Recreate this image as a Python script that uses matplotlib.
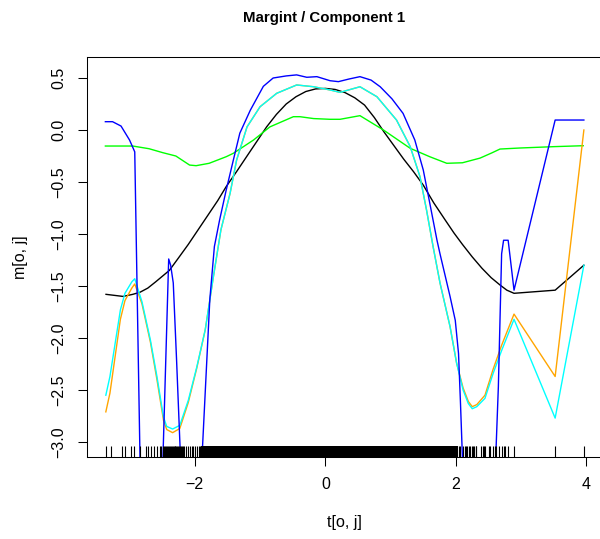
import matplotlib
matplotlib.use("Agg")
import matplotlib.pyplot as plt

plt.rcParams['font.family'] = ['Liberation Sans', 'DejaVu Sans']

# ---------------- data ----------------
black_x = [-3.36, -3.10, -2.95, -2.84, -2.72, -2.60, -2.39, -2.25, -2.10, -1.95, -1.80, -1.65,
           -1.52, -1.36, -1.20, -1.05, -0.90, -0.75, -0.60, -0.45, -0.30, -0.15, 0.00, 0.15,
           0.30, 0.45, 0.60, 0.75, 0.90, 1.05, 1.20, 1.35, 1.50, 1.66, 1.83, 1.97, 2.10, 2.25,
           2.40, 2.54, 2.675, 2.78, 2.89, 3.52, 3.96]
black_y = [-1.58, -1.60, -1.58, -1.56, -1.52, -1.46, -1.35, -1.23, -1.10, -0.96, -0.82, -0.68,
           -0.545, -0.40, -0.25, -0.11, 0.03, 0.15, 0.25, 0.32, 0.37, 0.395, 0.40, 0.39,
           0.36, 0.31, 0.24, 0.12, -0.02, -0.15, -0.28, -0.40, -0.53, -0.70, -0.86, -0.99, -1.10, -1.22,
           -1.33, -1.42, -1.49, -1.54, -1.57, -1.54, -1.30]

green_x = [-3.37, -2.95, -2.70, -2.49, -2.29, -2.08, -1.98, -1.78, -1.52, -1.41, -1.10, -0.85,
           -0.49, -0.39, -0.18, 0.07, 0.225, 0.53, 0.89, 1.30, 1.60, 1.86, 2.10, 2.37, 2.55,
           2.675, 2.98, 3.50, 3.95]
green_y = [-0.154, -0.154, -0.18, -0.218, -0.25, -0.337, -0.343, -0.32, -0.257, -0.224, -0.096, 0.03,
           0.128, 0.128, 0.11, 0.103, 0.103, 0.138, 0.0, -0.176, -0.257, -0.32, -0.315, -0.27, -0.22,
           -0.183, -0.173, -0.16, -0.151]

blue_x = [-3.37, -3.26, -3.13, -3.00, -2.92, -2.80, -2.55, -2.40, -2.37, -2.33, -2.28, -2.22,
          -2.10, -2.02, -1.77, -1.70, -1.62, -1.52, -1.41, -1.31, -1.15, -0.95, -0.80, -0.60,
          -0.44, -0.285, -0.13, 0.072, 0.20, 0.36, 0.53, 0.70, 0.84, 1.02, 1.19, 1.37, 1.50,
          1.60, 1.71, 1.756, 1.91, 1.99, 2.04, 2.07, 2.20, 2.50, 2.65, 2.70, 2.73, 2.80, 2.89,
          3.52, 3.96]
blue_y = [0.08, 0.08, 0.038, -0.096, -0.21, -4.6, -4.5, -1.24, -1.30, -1.47, -2.2, -3.14,
          -4.8, -4.8, -1.63, -1.12, -0.865, -0.58, -0.29, -0.03, 0.19, 0.42, 0.50, 0.52,
          0.53, 0.507, 0.513, 0.474, 0.465, 0.49, 0.513, 0.48, 0.416, 0.30, 0.16, -0.096, -0.385,
          -0.705, -1.06, -1.19, -1.60, -1.83, -2.15, -2.63, -4.9, -5.0, -2.47, -1.19, -1.06, -1.06, -1.54,
          0.096, 0.096]

cyan_x = [-3.363, -3.30, -3.14, -3.07, -2.965, -2.92, -2.81, -2.68, -2.58, -2.48, -2.43, -2.34,
          -2.23, -2.10, -1.97, -1.84, -1.715, -1.60, -1.46, -1.36, -1.20, -1.00, -0.745, -0.44,
          -0.18, 0.072, 0.225, 0.53, 0.79, 1.09, 1.30, 1.45, 1.55, 1.65, 1.756, 1.91, 2.01,
          2.11, 2.19, 2.25, 2.32, 2.445, 2.57, 2.70, 2.89, 3.52, 3.96]
cyan_y = [-2.55, -2.37, -1.73, -1.57, -1.46, -1.43, -1.65, -2.02, -2.37, -2.76, -2.85, -2.875,
          -2.84, -2.60, -2.28, -1.92, -1.41, -0.96, -0.61, -0.29, 0.03, 0.224, 0.353, 0.433,
          0.416, 0.385, 0.362, 0.416, 0.32, 0.096, -0.16, -0.45, -0.77, -1.12, -1.47, -1.89, -2.24,
          -2.50, -2.63, -2.68, -2.66, -2.58, -2.34, -2.12, -1.82, -2.77, -1.30]

orange_x = cyan_x
orange_y = [-2.71, -2.53, -1.82, -1.64, -1.52, -1.48, -1.67, -2.04, -2.40, -2.79, -2.88, -2.91,
            -2.87, -2.62, -2.29, -1.92, -1.41, -0.96, -0.61, -0.29, 0.03, 0.224, 0.353, 0.433,
            0.416, 0.385, 0.362, 0.416, 0.32, 0.096, -0.16, -0.45, -0.77, -1.12, -1.47, -1.89, -2.24,
            -2.48, -2.61, -2.66, -2.64, -2.55, -2.30, -2.07, -1.77, -2.37, 0.0]

# sample positions shown as rug
rug_x = [-3.363, -3.29, -3.12, -3.07, -2.975, -2.93, -2.84, -2.75, -2.71, -2.67, -2.63, -2.58, -2.54, -2.52,
         -2.48, -2.465, -2.45, -2.44, -2.425, -2.41, -2.395, -2.38, -2.37, -2.355, -2.34, -2.325,
         -2.31, -2.30, -2.285, -2.27, -2.255, -2.24, -2.23, -2.215, -2.20, -2.185,
         -2.16, -2.13, -2.11, -2.08, -2.05, -2.03, -2.00, -1.97, -1.94, -1.92,
         -1.89, -1.87, -1.85, -1.83, -1.81, -1.79, -1.77, -1.75, -1.73, -1.71,
         -1.69, -1.67, -1.65, -1.63, -1.61, -1.59, -1.57, -1.55, -1.53, -1.51,
         -1.49, -1.47, -1.45, -1.43, -1.41, -1.39, -1.37, -1.35, -1.33, -1.31,
         -1.29, -1.27, -1.25, -1.23, -1.21, -1.19, -1.17, -1.15, -1.13, -1.11,
         -1.09, -1.07, -1.05, -1.03, -1.01, -0.99, -0.97, -0.95, -0.93, -0.91,
         -0.89, -0.87, -0.85, -0.83, -0.81, -0.79, -0.77, -0.75, -0.73, -0.71,
         -0.69, -0.67, -0.65, -0.63, -0.61, -0.59, -0.57, -0.55, -0.53, -0.51,
         -0.49, -0.47, -0.45, -0.43, -0.41, -0.39, -0.37, -0.35, -0.33, -0.31,
         -0.29, -0.27, -0.25, -0.23, -0.21, -0.19, -0.17, -0.15, -0.13, -0.11,
         -0.09, -0.07, -0.05, -0.03, -0.01, 0.01, 0.03, 0.05, 0.07, 0.09,
         0.11, 0.13, 0.15, 0.17, 0.19, 0.21, 0.23, 0.25, 0.27, 0.29,
         0.31, 0.33, 0.35, 0.37, 0.39, 0.41, 0.43, 0.45, 0.47, 0.49,
         0.51, 0.53, 0.55, 0.57, 0.59, 0.61, 0.63, 0.65, 0.67, 0.69,
         0.71, 0.73, 0.75, 0.77, 0.79, 0.81, 0.83, 0.85, 0.87, 0.89,
         0.91, 0.93, 0.95, 0.97, 0.99, 1.01, 1.03, 1.05, 1.07, 1.09,
         1.11, 1.13, 1.15, 1.17, 1.19, 1.21, 1.23, 1.25, 1.27, 1.29,
         1.31, 1.33, 1.35, 1.37, 1.39, 1.41, 1.43, 1.45, 1.47, 1.49,
         1.51, 1.53, 1.55, 1.57, 1.59, 1.61, 1.63, 1.65, 1.67, 1.69,
         1.71, 1.73, 1.75, 1.77, 1.79, 1.81, 1.83, 1.85, 1.87, 1.89,
         1.91, 1.93, 1.95, 1.97, 1.99, 2.01,
         2.04, 2.07, 2.11, 2.14, 2.16, 2.17, 2.205, 2.21, 2.24, 2.26, 2.27, 2.30, 2.31,
         2.39, 2.41, 2.435, 2.44, 2.50, 2.52, 2.57, 2.60, 2.62, 2.66, 2.70, 2.73, 2.75,
         2.80, 2.89, 3.52, 3.96]

x_ticks = [-2, 0, 2, 4]
y_ticks = [-3.0, -2.5, -2.0, -1.5, -1.0, -0.5, 0.0, 0.5]

# ---------------- figure ----------------
W, H = 600, 539
fig = plt.figure(figsize=(W / 100, H / 100), dpi=100)
# plot region in pixels: left 86.7, right 603 (just past the image edge), top 57, bottom 457
ax = fig.add_axes([86.7 / W, (H - 457) / H, (603 - 86.7) / W, 400 / H])
ax.set_xlim(-3.656, 4.253)
ax.set_ylim(-3.144, 0.702)

lw = 1.0
ax.plot(black_x, black_y, color='black', lw=lw)
ax.plot(green_x, green_y, color='#00ff00', lw=lw)
ax.plot(orange_x, orange_y, color='orange', lw=lw)
ax.plot(cyan_x, cyan_y, color='cyan', lw=lw)
ax.plot(blue_x, blue_y, color='blue', lw=lw)

# rug: thin marks, wider where they pack together so the block reads solid
rug_w = [1.5 if -1.9 <= v <= 2.02 else 0.8 for v in rug_x]
ax.vlines(rug_x, 0, 0.028, transform=ax.get_xaxis_transform(), color='black', linewidths=rug_w)

for s in ax.spines.values():
    s.set_linewidth(0.75)

ax.set_xticks(x_ticks)
ax.set_xticklabels([str(v).replace('-', '\u2212') for v in x_ticks])
ax.set_yticks(y_ticks)
ax.set_yticklabels([('%.1f' % v).replace('-', '\u2212') for v in y_ticks])
ax.tick_params(length=6.5, width=0.75, pad=8, labelsize=11.5)
plt.setp(ax.get_yticklabels(), rotation=90, va='center')

ax.set_xlabel('t[o, j]', fontsize=11.5)
ax.xaxis.set_label_coords(0.5, -0.145)
ax.set_ylabel('m[o, j]', fontsize=11.5)
ax.yaxis.set_label_coords(-0.114, 0.5)

fig.text(324 / W, 1 - 18 / H, 'Margint / Component 1', ha='center', va='center',
         fontsize=10.8, fontweight='bold')

fig.savefig('out.png', dpi=100)
